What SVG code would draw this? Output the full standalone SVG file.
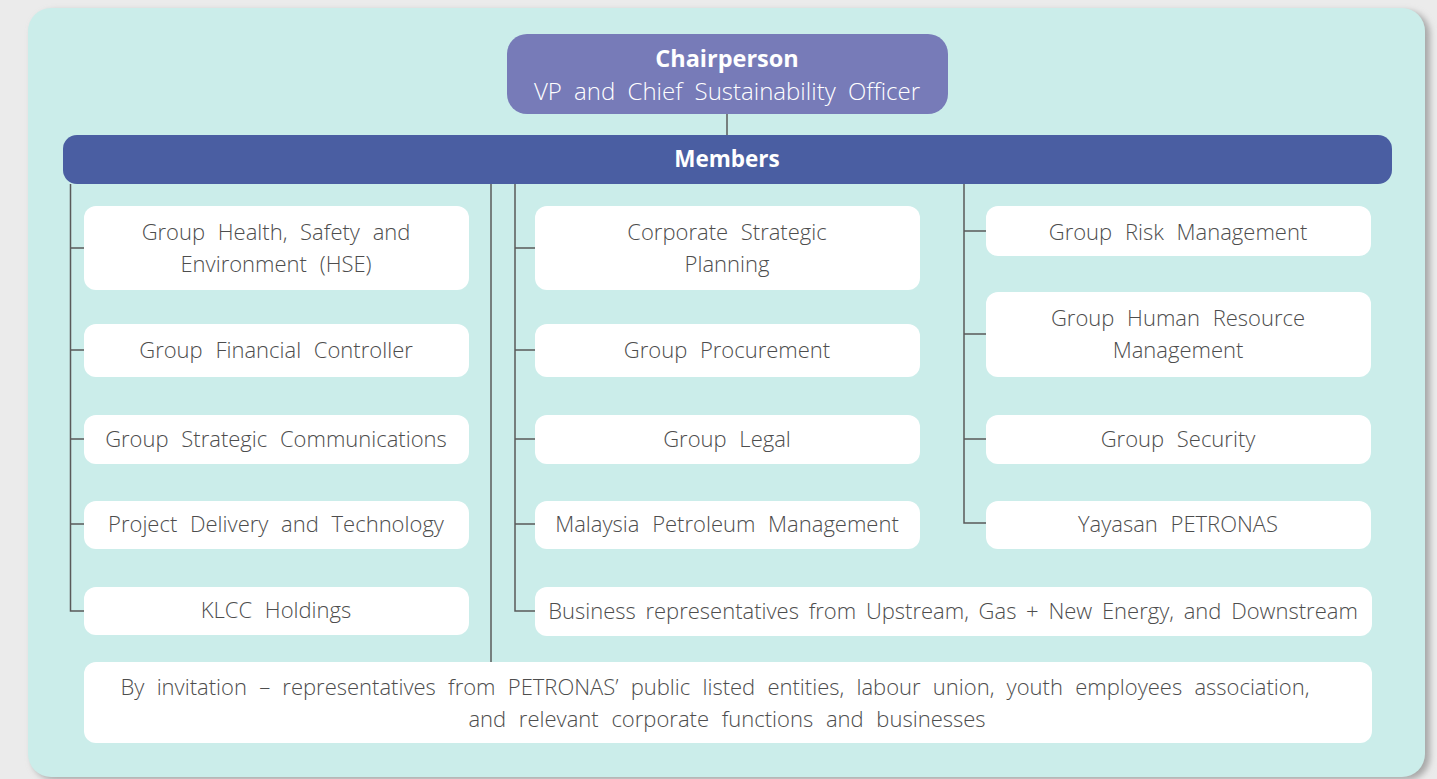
<svg xmlns="http://www.w3.org/2000/svg" width="1437" height="779" viewBox="0 0 1437 779">
<defs>
<style>
.box{fill:#ffffff;}
.t{font-family:"Open Sans",Lato,"Liberation Sans",sans-serif;font-weight:300;font-size:22px;fill:#4d4d4d;text-anchor:middle;word-spacing:7px;}
.w{font-family:"Open Sans",Lato,"Liberation Sans",sans-serif;fill:#ffffff;text-anchor:middle;}
.c{stroke:#5a5a5a;stroke-width:1.5;fill:none;}
</style>
<filter id="sh" x="-5%" y="-5%" width="110%" height="110%">
<feGaussianBlur stdDeviation="3"/>
</filter>
</defs>
<rect width="1437" height="779" fill="#ebebeb"/>
<rect x="32" y="11" width="1398" height="769" rx="23" fill="#a8a8a8" filter="url(#sh)"/>
<rect x="28" y="8" width="1397" height="769" rx="23" fill="#cbedea"/>

<g id="connectors">
<line class="c" x1="727" y1="114" x2="727" y2="135"/>
<path class="c" d="M70.5 184 V611 H84 M70.5 248 H84 M70.5 350 H84 M70.5 439 H84 M70.5 524 H84"/>
<line class="c" x1="491" y1="184" x2="491" y2="662"/>
<path class="c" d="M515 184 V611 H535 M515 248 H535 M515 350 H535 M515 439 H535 M515 524 H535"/>
<path class="c" d="M964 184 V523 H986 M964 231 H986 M964 334 H986 M964 439 H986"/>
</g>

<g id="chairperson">
<rect x="507" y="34" width="441" height="80" rx="20" fill="#777bb8"/>
<text class="w" x="727" y="67" font-size="23.5" font-weight="700">Chairperson</text>
<text class="w" x="727" y="100" font-size="24" font-weight="300" style="word-spacing:6px">VP and Chief Sustainability Officer</text>
</g>

<g id="members">
<rect x="63" y="135" width="1329" height="49" rx="14" fill="#4a5ea2"/>
<text class="w" x="727" y="167" font-size="22.5" font-weight="700">Members</text>
</g>

<g id="hse"><rect class="box" x="84" y="206" width="385" height="84" rx="12"/>
<text class="t" x="276" y="240">Group Health, Safety and</text>
<text class="t" x="276" y="272">Environment (HSE)</text></g>
<g id="gfc"><rect class="box" x="84" y="324" width="385" height="53" rx="12"/>
<text class="t" x="276" y="358">Group Financial Controller</text></g>
<g id="gsc"><rect class="box" x="84" y="415" width="385" height="49" rx="12"/>
<text class="t" x="276" y="447">Group Strategic Communications</text></g>
<g id="pdt"><rect class="box" x="84" y="501" width="385" height="48" rx="12"/>
<text class="t" x="276" y="532">Project Delivery and Technology</text></g>
<g id="klcc"><rect class="box" x="84" y="587" width="385" height="48" rx="12"/>
<text class="t" x="276" y="618">KLCC Holdings</text></g>

<g id="csp"><rect class="box" x="535" y="206" width="385" height="84" rx="12"/>
<text class="t" x="727" y="240">Corporate Strategic</text>
<text class="t" x="727" y="272">Planning</text></g>
<g id="gp"><rect class="box" x="535" y="324" width="385" height="53" rx="12"/>
<text class="t" x="727" y="358">Group Procurement</text></g>
<g id="gl"><rect class="box" x="535" y="415" width="385" height="49" rx="12"/>
<text class="t" x="727" y="447">Group Legal</text></g>
<g id="mpm"><rect class="box" x="535" y="501" width="385" height="48" rx="12"/>
<text class="t" x="727" y="532">Malaysia Petroleum Management</text></g>

<g id="grm"><rect class="box" x="986" y="206" width="385" height="50" rx="12"/>
<text class="t" x="1178" y="240">Group Risk Management</text></g>
<g id="ghrm"><rect class="box" x="986" y="292" width="385" height="85" rx="12"/>
<text class="t" x="1178" y="326">Group Human Resource</text>
<text class="t" x="1178" y="358">Management</text></g>
<g id="gs"><rect class="box" x="986" y="415" width="385" height="49" rx="12"/>
<text class="t" x="1178" y="447">Group Security</text></g>
<g id="yp"><rect class="box" x="986" y="501" width="385" height="48" rx="12"/>
<text class="t" x="1178" y="532">Yayasan PETRONAS</text></g>

<g id="business"><rect class="box" x="535" y="587" width="837" height="49" rx="12"/>
<text class="t" x="953" y="619" style="word-spacing:4px">Business representatives from Upstream, Gas + New Energy, and Downstream</text></g>

<g id="invitation"><rect class="box" x="84" y="662" width="1288" height="81" rx="12"/>
<text class="t" x="715" y="695" style="word-spacing:6.5px">By invitation – representatives from PETRONAS’ public listed entities, labour union, youth employees association,</text>
<text class="t" x="727" y="727">and relevant corporate functions and businesses</text></g>
</svg>
